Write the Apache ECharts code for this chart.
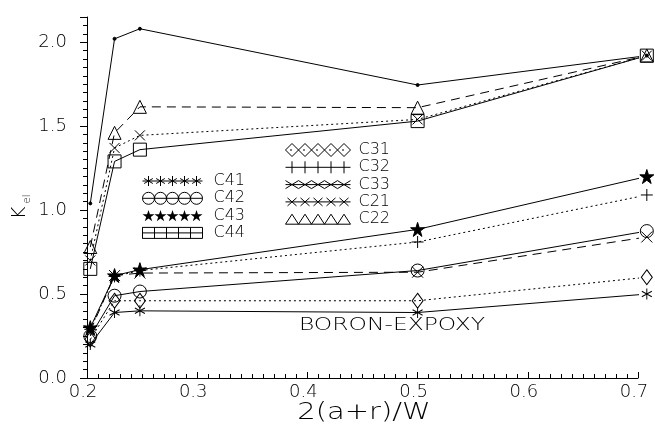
<!DOCTYPE html>
<html><head><meta charset="utf-8">
<script src="https://cdn.jsdelivr.net/npm/echarts@6/dist/echarts.min.js"></script>
<style>html,body{margin:0;padding:0;background:#fff}#c{width:655px;height:432px}</style>
</head><body><div id="c"></div>
<script>
// ---- data ----
const xValues = [0.203, 0.225, 0.248, 0.5, 0.708];
const C1  = [1.04, 2.02, 2.08, 1.745, 1.92];
const C22 = [0.78, 1.46, 1.615, 1.61, 1.92];
const C21 = [0.70, 1.37, 1.445, 1.54, 1.92];
const C44 = [0.65, 1.29, 1.36, 1.53, 1.92];
const C43 = [0.30, 0.61, 0.645, 0.885, 1.20];
const C32 = [0.29, 0.605, 0.64, 0.81, 1.09];
const C33 = [0.28, 0.61, 0.625, 0.63, 0.84];
const C42 = [0.25, 0.49, 0.515, 0.64, 0.875];
const C31 = [0.23, 0.46, 0.46, 0.46, 0.60];
const C41 = [0.20, 0.39, 0.40, 0.39, 0.50];
const xTicks = [0.2, 0.3, 0.4, 0.5, 0.6, 0.7];
const yTicks = [0.0, 0.5, 1.0, 1.5, 2.0];
const legendLeft = ['C41', 'C42', 'C43', 'C44'];
const legendRight = ['C31', 'C32', 'C33', 'C21', 'C22'];

const FONT = 'DejaVu Sans';
const FW = 200;

// ---- symbols ----
function starPts(cx, cy, R) {
  const r = R * 0.382; let d = '';
  for (let i = 0; i < 10; i++) {
    const a = -Math.PI / 2 + i * Math.PI / 5;
    const rr = i % 2 ? r : R;
    d += (i ? 'L' : 'M') + (cx + rr * Math.cos(a)).toFixed(3) + ',' + (cy + rr * Math.sin(a)).toFixed(3);
  }
  return d + 'Z';
}
const SYM = {
  asterisk: 'path://M0,-10L0,10M-8.66,-5L8.66,5M-8.66,5L8.66,-5',
  plus: 'path://M-10,0L10,0M0,-10L0,10',
  cross: 'path://M-10,-10L10,10M-10,10L10,-10',
  star: 'path://' + starPts(0, 0, 10)
};

// legend icons (5 markers in a row)
function icon(type, W) {
  const n = 5, s = W / n, cy = 6.5; let d = '';
  const cx = i => s / 2 + i * s;
  const hline = 'M0,' + cy + 'L' + W + ',' + cy;
  for (let i = 0; i < n; i++) {
    const x = cx(i);
    if (type === 'asterisk') {
      const r = 5;
      d += `M${x},${cy - r}L${x},${cy + r}M${x - r * .866},${cy - r / 2}L${x + r * .866},${cy + r / 2}M${x - r * .866},${cy + r / 2}L${x + r * .866},${cy - r / 2}`;
    } else if (type === 'circle') {
      const r = s / 2;
      d += `M${x + r},${cy}A${r},${r} 0 1 0 ${x - r},${cy}A${r},${r} 0 1 0 ${x + r},${cy}Z`;
    } else if (type === 'star') {
      d += starPts(x, cy + 0.5, s / 2 + 0.3);
    } else if (type === 'rect') {
      d += `M${i * s},${cy - 5.5}L${i * s},${cy + 5.5}`;
    } else if (type === 'diamond') {
      d += `M${x},0L${x + s / 2},${cy}L${x},13L${x - s / 2},${cy}Z`;
      d += `M${x - 2},${cy}L${x},${cy}`;
    } else if (type === 'plus') {
      d += `M${x},0.5L${x},12.5`;
    } else if (type === 'crossBig') {
      const r = s / 2;
      d += `M${x - r},${cy - 4}L${x + r},${cy + 4}M${x - r},${cy + 4}L${x + r},${cy - 4}`;
    } else if (type === 'crossSmall') {
      const r = 4.5;
      d += `M${x - r},${cy - 4}L${x + r},${cy + 4}M${x - r},${cy + 4}L${x + r},${cy - 4}`;
    } else if (type === 'triangle') {
      d += `M${i * s},${cy + 5}L${x},${cy - 5}L${(i + 1) * s},${cy + 5}`;
    }
  }
  if (type === 'rect') d += `M0,${cy - 5.5}L${W},${cy - 5.5}L${W},${cy + 5.5}L0,${cy + 5.5}Z` + hline;
  else if (type === 'diamond') { }
  else if (type === 'star') { }
  else if (type === 'triangle') d += `M0,${cy + 5}L${W},${cy + 5}`;
  else d += hline;
  return 'path://' + d;
}

const outline = { color: 'rgba(0,0,0,0)', borderColor: '#000', borderWidth: 1 };
const solidFill = { color: '#000', borderColor: '#000', borderWidth: 1 };
const DOT = [2, 3], DASH = [9, 6];

function mk(name, vals, symbol, size, dash, filled) {
  return {
    name, type: 'line',
    data: xValues.map((x, i) => [x, vals[i]]),
    symbol, symbolSize: size, showAllSymbol: true, clip: false,
    lineStyle: { color: '#000', width: 1, type: dash },
    itemStyle: filled ? solidFill : outline,
    emphasis: { disabled: true }
  };
}

const series = [
  mk('C1', C1, 'circle', 3, 'solid', true),
  mk('C22', C22, 'triangle', 13, DASH),
  mk('C21', C21, SYM.cross, 10, DOT),
  mk('C44', C44, 'rect', 13, 'solid'),
  mk('C43', C43, SYM.star, 14, 'solid', true),
  mk('C32', C32, SYM.plus, 12, DOT),
  mk('C33', C33, SYM.cross, 11, DASH),
  mk('C42', C42, 'circle', 13, 'solid'),
  mk('C31', C31, 'diamond', [11, 15], DOT),
  mk('C41', C41, SYM.asterisk, [10, 11], 'solid')
];

const iconType = { C41: 'asterisk', C42: 'circle', C43: 'star', C44: 'rect',
  C31: 'diamond', C32: 'plus', C33: 'crossBig', C21: 'crossSmall', C22: 'triangle' };

function legendData(names, W) {
  return names.map(n => ({
    name: n, icon: icon(iconType[n], W),
    itemStyle: iconType[n] === 'star' ? { color: '#000', borderColor: '#000', borderWidth: 0 }
                                      : { color: 'rgba(0,0,0,0)', borderColor: '#000', borderWidth: 1 }
  }));
}

const legendText = { fontFamily: FONT, fontWeight: FW, fontSize: 16, color: '#000', lineHeight: 17 };

const chart = echarts.init(document.getElementById('c'), null, { renderer: 'canvas' });
chart.setOption({
  animation: false,
  backgroundColor: '#fff',
  grid: { left: 87, right: 17, top: 17, bottom: 54, containLabel: false },
  xAxis: {
    type: 'value', min: xTicks[0], max: xTicks[xTicks.length - 1], interval: 0.1,
    axisLine: { show: true, onZero: false, lineStyle: { color: '#000', width: 1 } },
    axisTick: { show: true, inside: true, length: 6, lineStyle: { color: '#000', width: 1 } },
    minorTick: { show: true, splitNumber: 10, length: 4, lineStyle: { color: '#000', width: 1 } },
    splitLine: { show: false }, minorSplitLine: { show: false },
    axisLabel: { color: '#000', fontFamily: FONT, fontWeight: FW, fontSize: 18, margin: 5, padding: [0, 8, 0, 0],
      formatter: v => v.toFixed(1) }
  },
  yAxis: {
    type: 'value', min: yTicks[0], max: 2.15, interval: 0.5,
    axisLine: { show: true, onZero: false, lineStyle: { color: '#000', width: 1 } },
    axisTick: { show: true, inside: false, length: 7, lineStyle: { color: '#000', width: 1 } },
    minorTick: { show: true, splitNumber: 10, length: 4, lineStyle: { color: '#000', width: 1 } },
    splitLine: { show: false }, minorSplitLine: { show: false },
    axisLabel: { color: '#000', fontFamily: FONT, fontWeight: FW, fontSize: 18, margin: 20, showMaxLabel: false,
      formatter: v => yTicks.indexOf(v) >= 0 ? v.toFixed(1) : '' }
  },
  legend: [
    { orient: 'vertical', left: 142, top: 172.5, padding: 0, itemWidth: 60, itemHeight: 13, itemGap: 0.3,
      selectedMode: false, textStyle: Object.assign({ padding: [0, 0, 0, 6] }, legendText),
      data: legendData(legendLeft, 60) },
    { orient: 'vertical', left: 285, top: 141.5, padding: 0, itemWidth: 65, itemHeight: 13, itemGap: 0.3,
      selectedMode: false, textStyle: Object.assign({ padding: [0, 0, 0, 3] }, legendText),
      data: legendData(legendRight, 65) }
  ],
  graphic: [
    { type: 'text', x: 20, y: 213, rotation: Math.PI / 2,
      style: { text: 'K', fontFamily: FONT, fontWeight: FW, fontSize: 20, fill: '#000', align: 'center', verticalAlign: 'middle' } },
    { type: 'text', x: 27, y: 199, rotation: Math.PI / 2,
      style: { text: 'el', fontFamily: FONT, fontWeight: FW, fontSize: 10, fill: '#000', align: 'center', verticalAlign: 'middle' } },
    { type: 'text', x: 364, y: 413, scaleX: 1.26,
      style: { text: '2(a+r)/W', fontFamily: FONT, fontWeight: FW, fontSize: 23, fill: '#000', align: 'center', verticalAlign: 'middle' } },
    { type: 'text', x: 392, y: 325, scaleX: 1.3,
      style: { text: 'BORON-EXPOXY', fontFamily: FONT, fontWeight: FW, fontSize: 18, fill: '#000', align: 'center', verticalAlign: 'middle' } }
  ],
  series
});
</script></body></html>
